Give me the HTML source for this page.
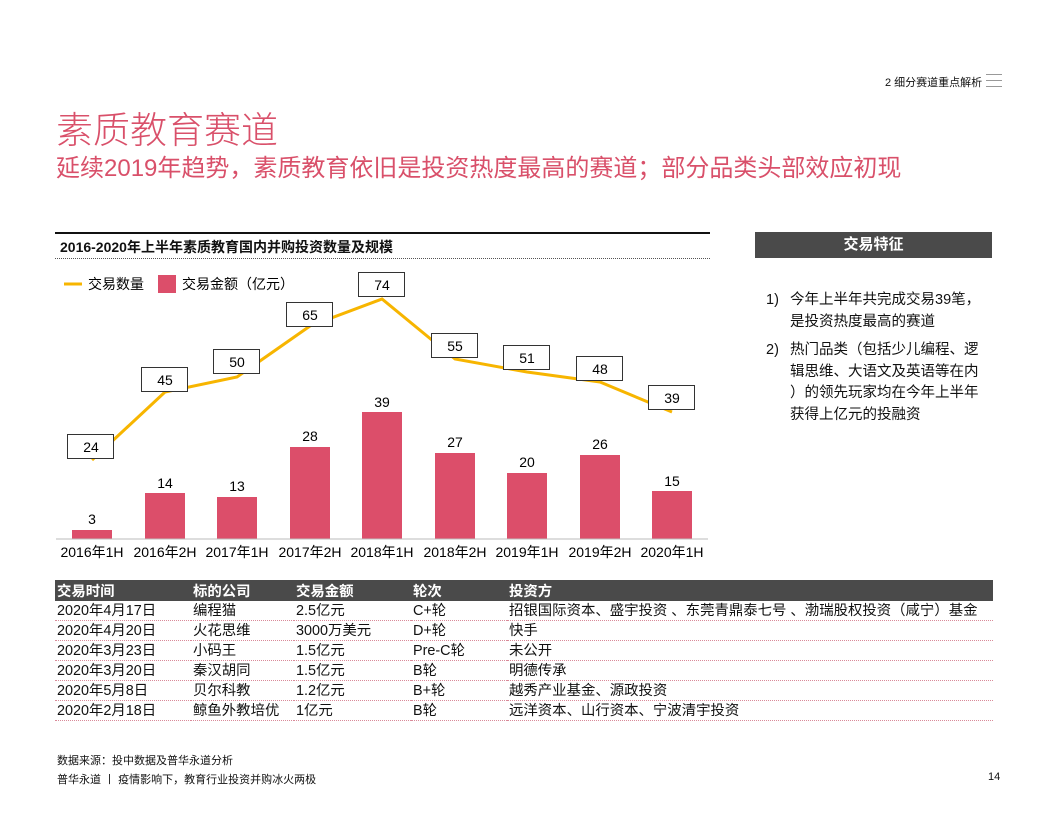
<!DOCTYPE html>
<html><head><meta charset="utf-8"><style>
body{margin:0;width:1056px;height:816px;background:#fff;position:relative;overflow:hidden;font-family:"Liberation Sans","Noto Sans CJK SC",sans-serif;color:#111}
.a{position:absolute;white-space:nowrap}
table{border-collapse:collapse;font-size:14.4px}
td{padding:0 0 0 2px;height:19px;border-bottom:1px dotted #d98a99;line-height:18px}
th{background:#4a4a4a;color:#fff;text-align:left;font-weight:bold;height:20px;padding:0 0 0 2px;font-size:14.4px}
</style></head><body>
<div class="a" style="left:885px;top:74px;font-size:11px">2 细分赛道重点解析</div>
<div class="a" style="left:986px;top:74px;width:16px;height:1px;background:#999"></div>
<div class="a" style="left:986px;top:80px;width:16px;height:1px;background:#999"></div>
<div class="a" style="left:986px;top:86px;width:16px;height:1px;background:#999"></div>
<div class="a" style="left:56px;top:100px;font-size:37px;color:#d9506a;font-weight:300">素质教育赛道</div>
<div class="a" style="left:56px;top:148px;font-size:24px;color:#d9506a">延续2019年趋势，素质教育依旧是投资热度最高的赛道；部分品类头部效应初现</div>
<div class="a" style="left:55px;top:232px;width:655px;height:2px;background:#111"></div>
<div class="a" style="left:60px;top:237px;font-size:14px;font-weight:bold">2016-2020年上半年素质教育国内并购投资数量及规模</div>
<div class="a" style="left:55px;top:258px;width:655px;border-top:1px dotted #555"></div>
<div class="a" style="left:755px;top:232px;width:237px;height:26px;background:#4a4a4a;color:#fff;font-weight:bold;font-size:15px;text-align:center;line-height:26px">交易特征</div>
<div class="a" style="left:766px;top:290px;font-size:14.5px;line-height:21.5px">
<div style="display:flex"><span style="width:24px">1)</span><span>今年上半年共完成交易39笔，<br>是投资热度最高的赛道</span></div>
<div style="display:flex;margin-top:7px"><span style="width:24px">2)</span><span>热门品类（包括少儿编程、逻<br>辑思维、大语文及英语等在内<br>）的领先玩家均在今年上半年<br>获得上亿元的投融资</span></div>
</div>
<svg class="a" style="left:0;top:0" width="1056" height="816" font-family="Liberation Sans, Noto Sans CJK SC, sans-serif">
<line x1="64" y1="284" x2="82" y2="284" stroke="#f7b500" stroke-width="3"/>
<text x="88" y="289" font-size="14">交易数量</text>
<rect x="158" y="275" width="18" height="18" fill="#dc4e6a"/>
<text x="182" y="289" font-size="14">交易金额（亿元）</text>
<g fill="#dc4e6a">
<rect x="72" y="530" width="40" height="9"/>
<rect x="145" y="493" width="40" height="46"/>
<rect x="217" y="497" width="40" height="42"/>
<rect x="290" y="447" width="40" height="92"/>
<rect x="362" y="412" width="40" height="127"/>
<rect x="435" y="453" width="40" height="86"/>
<rect x="507" y="473" width="40" height="66"/>
<rect x="580" y="455" width="40" height="84"/>
<rect x="652" y="491" width="40" height="48"/>
</g>
<line x1="56" y1="539" x2="708" y2="539" stroke="#bbb"/>
<g font-size="14" text-anchor="middle">
<text x="92" y="524">3</text><text x="165" y="488">14</text><text x="237" y="491">13</text>
<text x="310" y="441">28</text><text x="382" y="407">39</text><text x="455" y="447">27</text>
<text x="527" y="467">20</text><text x="600" y="449">26</text><text x="672" y="486">15</text>
</g>
<polyline fill="none" stroke="#f7b500" stroke-width="3" points="92,460 165,392 237,377 310,326 382,299 455,359 527,372 600,382 672,412"/>
<g fill="#fff" stroke="#333" stroke-width="1">
<rect x="67.5" y="434.5" width="46" height="24"/><rect x="141.5" y="367.5" width="46" height="24"/>
<rect x="213.5" y="349.5" width="46" height="24"/><rect x="286.5" y="302.5" width="46" height="24"/>
<rect x="358.5" y="272.5" width="46" height="24"/><rect x="431.5" y="333.5" width="46" height="24"/>
<rect x="503.5" y="345.5" width="46" height="24"/><rect x="576.5" y="356.5" width="46" height="24"/>
<rect x="648.5" y="385.5" width="46" height="24"/>
</g>
<g font-size="14" text-anchor="middle">
<text x="91" y="452">24</text><text x="165" y="385">45</text><text x="237" y="367">50</text>
<text x="310" y="320">65</text><text x="382" y="290">74</text><text x="455" y="351">55</text>
<text x="527" y="363">51</text><text x="600" y="374">48</text><text x="672" y="403">39</text>
</g>
<g font-size="14" text-anchor="middle">
<text x="92" y="557">2016年1H</text><text x="165" y="557">2016年2H</text><text x="237" y="557">2017年1H</text>
<text x="310" y="557">2017年2H</text><text x="382" y="557">2018年1H</text><text x="455" y="557">2018年2H</text>
<text x="527" y="557">2019年1H</text><text x="600" y="557">2019年2H</text><text x="672" y="557">2020年1H</text>
</g>
</svg>
<table class="a" style="left:55px;top:580px;width:938px">
<tr><th style="width:134px">交易时间</th><th style="width:101px">标的公司</th><th style="width:115px">交易金额</th><th style="width:94px">轮次</th><th>投资方</th></tr>
<tr><td>2020年4月17日</td><td>编程猫</td><td>2.5亿元</td><td>C+轮</td><td>招银国际资本、盛宇投资 、东莞青鼎泰七号 、渤瑞股权投资（咸宁）基金</td></tr>
<tr><td>2020年4月20日</td><td>火花思维</td><td>3000万美元</td><td>D+轮</td><td>快手</td></tr>
<tr><td>2020年3月23日</td><td>小码王</td><td>1.5亿元</td><td>Pre-C轮</td><td>未公开</td></tr>
<tr><td>2020年3月20日</td><td>秦汉胡同</td><td>1.5亿元</td><td>B轮</td><td>明德传承</td></tr>
<tr><td>2020年5月8日</td><td>贝尔科教</td><td>1.2亿元</td><td>B+轮</td><td>越秀产业基金、源政投资</td></tr>
<tr><td>2020年2月18日</td><td>鲸鱼外教培优</td><td>1亿元</td><td>B轮</td><td>远洋资本、山行资本、宁波清宇投资</td></tr>
</table>
<div class="a" style="left:57px;top:752px;font-size:11px">数据来源：投中数据及普华永道分析</div>
<div class="a" style="left:57px;top:771px;font-size:11px">普华永道 丨 疫情影响下，教育行业投资并购冰火两极</div>
<div class="a" style="left:988px;top:771px;font-size:11px">14</div>
</body></html>
